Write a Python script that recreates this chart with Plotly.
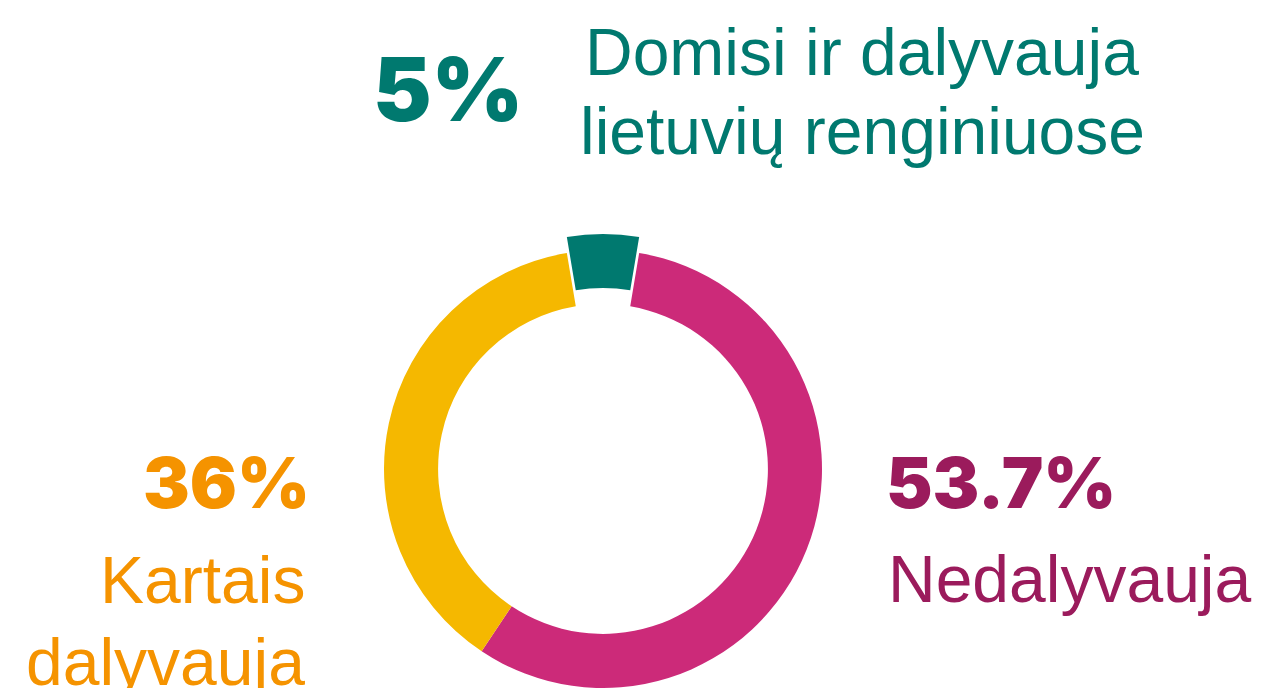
import plotly.graph_objects as go

# Survey shares (percent) for interest in Lithuanian community events
categories = ["Domisi ir dalyvauja lietuvių renginiuose", "Nedalyvauja", "Kartais dalyvauja"]
shares = [5, 53.7, 36]
share_labels = ["5%", "53.7%", "36%"]

slice_colors = ["#00796F", "#CC2A79", "#F5B800"]
text_colors = ["#00796F", "#9B1B5C", "#F59300"]

W, H = 1261, 688

fig = go.Figure()

# Main ring (the highlighted slice is drawn by a second, offset trace)
ring_colors = ["rgba(0,0,0,0)", slice_colors[1], slice_colors[2]]
fig.add_trace(go.Pie(
    labels=categories, values=shares, sort=False, direction="clockwise",
    rotation=-shares[0] / sum(shares) * 180, hole=0.753,
    marker=dict(colors=ring_colors, line=dict(width=0)),
    textinfo="none", hoverinfo="skip", showlegend=False,
    domain=dict(x=[384 / W, 822 / W], y=[0, 438 / H]),
))

# Highlighted slice, lifted away from the ring
lift = 16
hi_colors = [slice_colors[0], "rgba(0,0,0,0)", "rgba(0,0,0,0)"]
fig.add_trace(go.Pie(
    labels=categories, values=shares, sort=False, direction="clockwise",
    rotation=-shares[0] / sum(shares) * 180, hole=0.753,
    marker=dict(colors=hi_colors, line=dict(width=0)),
    textinfo="none", hoverinfo="skip", showlegend=False,
    domain=dict(x=[384 / W, 822 / W], y=[lift / H, (438 + lift) / H]),
))

BOLD = dict(family="Inter", weight=900)
REG = "Liberation Sans, Arial, sans-serif"


def ann(text, x, y, xanchor, size, color, bold=False):
    font = dict(size=size, color=color)
    if bold:
        font.update(BOLD)
    else:
        font["family"] = REG
    fig.add_annotation(text=text, x=x / W, y=1 - y / H, xref="paper", yref="paper",
                       xanchor=xanchor, yanchor="middle", showarrow=False, font=font)


ann(share_labels[0], 525, 89, "right", 88, text_colors[0], bold=True)
ann("Domisi ir dalyvauja", 862, 52, "center", 66, text_colors[0])
ann("lietuvių renginiuose", 862, 131, "center", 66, text_colors[0])

ann(share_labels[2], 312, 482, "right", 70, text_colors[2], bold=True)
ann("Kartais", 307, 580, "right", 66, text_colors[2])
ann("dalyvauja", 307, 662, "right", 66, text_colors[2])

ann(share_labels[1], 884, 482, "left", 70, text_colors[1], bold=True)
ann("Nedalyvauja", 886, 579, "left", 66, text_colors[1])

fig.update_layout(width=W, height=H, margin=dict(l=0, r=0, t=0, b=0),
                  paper_bgcolor="white", plot_bgcolor="white")

fig.write_html("out.html")
